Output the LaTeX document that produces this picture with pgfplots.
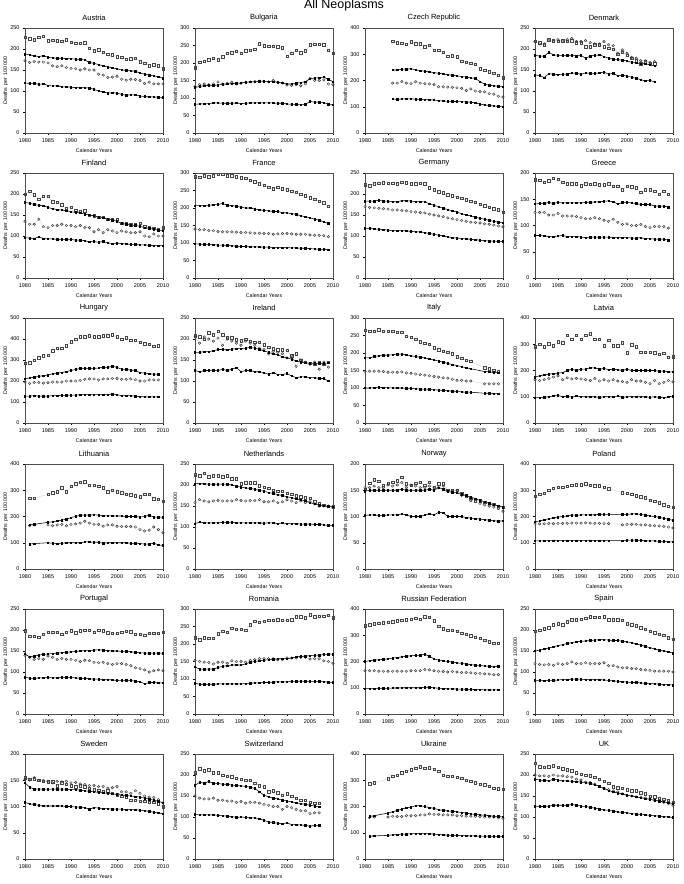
\documentclass[border=0pt]{standalone}
\usepackage{pgfplots}
\usepackage{pgfplotstable}
\usepackage{fontspec}
\setmainfont{Liberation Sans}
\pgfplotsset{compat=1.18}

\pgfplotsset{
 panel/.style={scale only axis, width=138pt, height=105pt, xmin=1980, xmax=2010, ymin=0,
  xtick={1980,1985,...,2010}, tick align=outside, xtick pos=bottom, ytick pos=left,
  major tick length=2pt,
  axis line style={gray!60!black, line width=0.4pt}, tick style={black, line width=0.4pt},
  ticklabel style={font=\fontsize{5.5}{6}\selectfont},
  /pgf/number format/assume math mode=true, /pgf/number format/1000 sep={},
  title style={font=\fontsize{7.5}{9}\selectfont, at={(axis description cs:0.5,1.04)}, anchor=center},
  xlabel={Calendar Years}, ylabel={Deaths\, per\, 100 000},
  xlabel style={font=\fontsize{5.3}{6}\selectfont, at={(axis description cs:0.5,-0.17)}, anchor=center},
  ylabel style={font=\fontsize{5.3}{6}\selectfont, at={(axis description cs:-0.14,0.5)}, anchor=center},
 },
 sA/.style={draw=gray!40, line width=0.3pt, mark=square, mark size=1.25pt, mark options={draw=gray!55!black, line width=0.45pt}},
 sC/.style={draw=gray!40, line width=0.3pt, mark=o, mark size=1.25pt, mark options={draw=gray!45!black, line width=0.45pt}},
 sB/.style={black, line width=0.55pt, mark=square*, mark size=0.75pt},
}

\newcommand{\panel}[6]{%
\begin{axis}[panel, at={(#1pt,-#2pt)}, anchor=south west, title={#3}, ymax=#4, ytick distance=#5]
\addplot[sA] table[x=yr,y=a]{#6};
\addplot[sC] table[x=yr,y=c]{#6};
\addplot[sB] table[x=yr,y=b]{#6};
\addplot[sB] table[x=yr,y=d]{#6};
\end{axis}}

\pgfplotstableread{
yr a b c d
1980 228 188 172 119
1981 224 186 168 118
1982 222 184 170 118
1983 228 182 169 116
1984 230 184 169 117
1985 220 180 167 113
1986 221 179 160 112
1987 220 178 158 112
1988 218 178 160 110
1989 222 177 156 110
1990 216 177 154 109
1991 214 176 153 108
1992 214 175 150 108
1993 215 174 153 108
1994 202 168 150 107
1995 196 166 150 104
1996 198 163 140 100
1997 192 160 138 98
1998 188 157 132 95
1999 186 155 133 96
2000 182 153 135 95
2001 180 150 128 92
2002 176 149 126 90
2003 177 148 128 91
2004 178 147 127 91
2005 170 143 125 88
2006 166 140 118 87
2007 160 138 121 86
2008 163 136 117 86
2009 160 134 117 85
2010 153 130 117 85
}\tAT
\pgfplotstableread{
yr a b c d
1980 187 130 132 82
1981 202 133 138 83
1982 205 135 140 83
1983 210 136 138 84
1984 213 136 140 86
1985 210 137 146 86
1986 218 139 140 85
1987 228 140 142 85
1988 230 141 145 85
1989 233 142 140 86
1990 228 143 142 84
1991 235 145 145 85
1992 236 146 146 86
1993 240 146 147 86
1994 255 148 148 86
1995 250 148 147 86
1996 248 147 146 86
1997 248 147 150 86
1998 246 145 145 85
1999 243 143 143 85
2000 220 140 137 83
2001 228 140 136 82
2002 237 142 138 82
2003 230 144 135 80
2004 235 147 140 82
2005 252 155 156 90
2006 253 157 150 88
2007 253 158 150 88
2008 252 160 152 87
2009 237 153 140 82
2010 228 147 138 80
}\tBG
\pgfplotstableread{
yr a b c d
1986 350 240 190 130
1987 343 240 190 128
1988 342 243 196 130
1989 338 243 190 130
1990 347 245 188 130
1991 340 240 195 129
1992 340 238 190 128
1993 328 235 188 127
1994 335 233 187 127
1995 316 230 185 126
1996 316 228 176 123
1997 308 225 176 122
1998 293 222 175 121
1999 295 220 174 120
2000 290 218 172 120
2001 273 215 170 119
2002 270 213 162 118
2003 265 210 168 117
2004 262 208 160 115
2005 245 196 158 110
2006 240 186 157 107
2007 233 182 150 105
2008 228 180 148 103
2009 220 178 140 101
2010 210 177 137 100
}\tCZ
\pgfplotstableread{
yr a b c d
1980 218 185 218 138
1981 215 183 212 137
1982 210 183 212 132
1983 222 192 220 141
1984 220 186 218 140
1985 218 185 222 139
1986 220 185 219 140
1987 218 185 222 140
1988 220 185 225 143
1989 215 183 218 142
1990 215 185 218 140
1991 205 178 220 143
1992 205 183 215 142
1993 210 185 212 142
1994 210 186 212 143
1995 205 182 218 145
1996 202 178 210 140
1997 200 176 208 142
1998 188 175 190 136
1999 192 173 198 138
2000 185 172 190 135
2001 178 168 180 133
2002 172 167 178 130
2003 165 165 172 127
2004 170 165 172 124
2005 165 162 168 125
2006 165 160 170 122
}\tDK
\pgfplotstableread{
yr a b c d
1980 200 180 135 96
1981 207 178 128 95
1982 198 175 128 94
1983 188 173 140 98
1984 195 172 122 94
1985 195 168 120 93
1986 182 165 125 93
1987 180 163 125 92
1988 175 162 128 92
1989 166 160 125 92
1990 168 158 125 92
1991 160 156 122 90
1992 158 155 125 90
1993 160 152 120 89
1994 150 150 120 86
1995 148 148 110 87
1996 145 145 115 85
1997 145 143 108 87
1998 140 140 115 84
1999 140 138 112 82
2000 140 135 108 83
2001 130 130 112 82
2002 130 128 110 81
2003 127 126 108 80
2004 127 125 108 80
2005 130 123 110 79
2006 122 120 100 79
2007 120 118 98 78
2008 118 116 105 77
2009 116 114 100 77
2010 120 113 100 77
}\tFI
\pgfplotstableread{
yr a b c d
1980 290 207 140 98
1981 288 207 138 97
1982 292 207 138 96
1983 290 208 136 96
1984 292 209 135 95
1985 297 210 133 94
1986 297 213 132 94
1987 292 208 132 93
1988 292 207 132 92
1989 290 205 131 91
1990 287 202 130 90
1991 285 200 130 90
1992 280 200 129 89
1993 275 197 128 89
1994 270 195 128 89
1995 265 193 127 88
1996 260 192 127 88
1997 255 190 125 87
1998 260 190 126 87
1999 255 187 127 87
2000 252 186 127 87
2001 248 184 126 86
2002 245 182 125 86
2003 240 178 125 85
2004 235 175 125 85
2005 230 172 123 84
2006 225 168 122 83
2007 220 165 122 82
2008 215 160 121 82
2009 205 156 118 80
}\tFR
\pgfplotstableread{
yr a b c d
1980 222 183 170 118
1981 220 183 168 118
1982 225 183 167 117
1983 226 185 166 116
1984 227 183 165 115
1985 226 183 164 114
1986 226 182 162 113
1987 225 182 162 113
1988 228 184 161 113
1989 227 184 160 112
1990 224 183 158 111
1991 225 182 157 110
1992 226 182 156 110
1993 224 181 155 108
1994 215 177 152 106
1995 210 173 150 104
1996 206 170 148 102
1997 203 166 146 100
1998 198 163 143 98
1999 196 160 141 96
2000 192 157 139 95
2001 190 153 137 94
2002 186 150 135 93
2003 183 148 133 92
2004 180 145 132 91
2005 176 142 131 90
2006 172 140 129 89
2007 168 137 128 88
2008 165 135 126 88
2009 163 133 124 87
2010 157 131 122 87
}\tDE
\pgfplotstableread{
yr a b c d
1980 187 141 125 81
1981 186 142 125 81
1982 182 142 125 80
1983 185 144 120 79
1984 190 142 120 79
1985 188 144 123 80
1986 182 143 118 81
1987 180 143 118 79
1988 180 143 118 79
1989 180 143 117 79
1990 176 143 115 78
1991 180 144 113 77
1992 179 144 113 78
1993 180 145 115 78
1994 178 145 113 78
1995 178 146 110 78
1996 180 147 108 78
1997 175 145 112 77
1998 175 141 106 77
1999 168 144 102 77
2000 175 144 103 77
2001 174 143 100 76
2002 172 142 100 76
2003 163 140 102 77
2004 168 140 98 75
2005 168 140 96 75
2006 165 137 98 74
2007 160 137 98 74
2008 165 137 98 74
2009 160 135 95 72
}\tGR
\pgfplotstableread{
yr a b c d
1980 285 210 195 128
1981 288 215 188 128
1982 300 218 193 130
1983 312 222 193 128
1984 320 226 190 128
1985 322 228 192 128
1986 345 235 195 130
1987 355 238 195 130
1988 356 240 195 132
1989 368 245 200 132
1990 388 250 200 133
1991 400 255 200 133
1992 410 260 203 135
1993 410 260 208 135
1994 415 260 210 135
1995 410 260 210 135
1996 412 262 205 135
1997 415 265 210 135
1998 415 265 210 135
1999 420 270 212 138
2000 410 265 212 135
2001 400 256 208 130
2002 405 255 208 130
2003 395 252 210 130
2004 395 250 206 128
2005 385 240 200 125
2006 378 238 200 125
2007 375 235 205 124
2008 365 232 205 124
2009 368 233 205 124
}\tHU
\pgfplotstableread{
yr a b c d
1980 208 168 205 125
1981 205 168 190 122
1982 200 170 205 125
1983 215 170 200 125
1984 210 172 195 126
1985 218 175 202 125
1986 210 175 185 128
1987 203 174 200 125
1988 203 176 195 128
1989 198 177 190 132
1990 196 177 185 122
1991 200 178 195 125
1992 195 180 190 125
1993 192 178 185 122
1994 192 175 178 122
1995 186 172 175 120
1996 180 168 165 116
1997 177 165 170 120
1998 175 162 168 115
1999 175 158 165 115
2000 173 155 155 118
2001 160 152 160 112
2002 165 148 135 108
2003 150 145 150 110
2004 145 143 145 110
2005 142 142 140 108
2006 140 142 145 108
2007 145 142 128 106
2008 140 142 145 106
2009 145 143 133 100
}\tIE
\pgfplotstableread{
yr a b c d
1980 265 186 148 100
1981 262 186 148 100
1982 262 190 148 101
1983 266 192 148 102
1984 262 193 147 101
1985 262 194 145 101
1986 262 195 145 100
1987 260 197 145 100
1988 260 197 146 100
1989 248 195 143 99
1990 245 192 142 99
1991 240 190 140 98
1992 232 188 138 97
1993 228 186 137 97
1994 225 183 135 96
1995 215 180 133 95
1996 210 177 131 94
1997 205 174 129 93
1998 202 170 128 92
1999 198 167 125 91
2000 190 164 122 90
2001 185 161 122 89
2002 180 158 120 88
2003 176 155 120 88
2006 158 147 112 85
2007 155 146 112 85
2008 150 145 112 84
2009 148 143 112 84
}\tIT
\pgfplotstableread{
yr a b c d
1980 290 175 165 97
1981 300 180 162 97
1982 290 183 165 98
1983 302 186 170 100
1984 295 188 175 103
1985 310 190 180 105
1986 305 192 165 100
1987 335 200 172 102
1988 320 205 168 98
1989 335 200 170 103
1990 320 205 168 100
1991 335 205 165 100
1992 340 210 162 100
1993 320 210 170 100
1994 320 205 160 98
1995 295 208 165 100
1996 315 203 160 100
1997 295 205 165 100
1998 295 203 160 103
1999 305 200 158 98
2000 268 205 155 100
2001 298 200 165 100
2002 290 200 160 100
2003 270 200 160 100
2004 270 200 155 100
2005 270 200 150 98
2006 268 200 162 100
2007 262 197 150 98
2008 265 198 155 96
2009 250 195 162 100
2010 252 195 157 102
}\tLV
\pgfplotstableread{
yr a b c d
1981 270 168 165 95
1982 270 170 168 97
1985 285 178 168 100
1986 290 180 165 98
1987 295 183 168 97
1988 310 186 170 98
1989 295 190 165 100
1990 315 196 170 100
1991 325 200 172 100
1992 330 205 175 100
1993 333 205 182 103
1994 320 205 175 103
1995 320 207 170 102
1996 315 205 170 102
1997 310 203 163 98
1998 295 202 168 100
1999 300 203 168 100
2000 295 202 163 100
2001 290 202 162 100
2002 285 200 162 100
2003 283 200 162 98
2004 280 200 160 98
2005 275 198 150 97
2006 285 200 145 95
2007 285 205 148 95
2008 268 198 160 98
2009 265 198 150 92
2010 258 198 138 90
}\tLT
\pgfplotstableread{
yr a b c d
1980 225 203 158 108
1981 222 203 165 112
1982 228 203 162 110
1983 220 202 160 110
1984 222 202 162 110
1985 222 202 163 110
1986 220 202 162 111
1987 222 202 162 111
1988 215 200 162 111
1989 215 197 165 110
1990 203 195 163 110
1991 205 193 162 110
1992 205 192 163 110
1993 205 190 163 110
1994 198 187 165 110
1995 195 185 160 109
1996 192 182 160 110
1997 188 180 162 110
1998 185 177 158 108
1999 185 175 160 110
2000 180 172 165 108
2001 178 170 162 108
2002 175 167 158 108
2003 172 165 162 107
2004 170 162 158 107
2005 168 158 160 107
2006 160 155 155 106
2007 156 152 150 106
2008 152 150 150 105
2009 150 149 150 104
2010 148 148 146 104
}\tNL
\pgfplotstableread{
yr a b c d
1980 152 148 155 102
1981 163 150 155 103
1982 170 150 158 103
1983 167 150 155 102
1984 160 150 155 102
1985 163 150 160 103
1986 165 150 158 103
1987 168 150 160 103
1988 175 152 165 105
1989 162 150 155 103
1990 160 150 160 100
1991 163 150 158 100
1992 165 150 155 100
1993 160 150 155 103
1994 165 152 158 105
1995 155 150 155 103
1996 162 155 155 108
1997 162 152 158 107
1998 150 148 148 100
1999 150 146 148 100
2000 150 145 150 100
2001 143 142 140 100
2002 140 140 140 98
2003 135 137 130 97
2004 130 134 132 96
2005 130 131 125 95
2006 127 128 122 94
2007 125 125 120 93
2008 123 122 118 92
2009 120 120 115 91
2010 118 118 110 92
}\tNO
\pgfplotstableread{
yr a b c d
1980 278 180 175 107
1981 285 183 172 107
1982 288 187 172 107
1983 300 192 173 108
1984 308 195 173 108
1985 312 198 174 108
1986 312 200 174 108
1987 316 202 174 108
1988 320 205 175 108
1989 322 205 175 108
1990 322 206 175 108
1991 325 206 176 108
1992 320 206 175 108
1993 318 207 174 108
1994 318 208 174 108
1995 312 208 173 108
1996 306 208 173 108
1999 290 208 168 108
2000 288 208 170 110
2001 285 210 170 110
2002 280 210 170 110
2003 275 208 168 109
2004 272 205 168 108
2005 262 202 166 107
2006 258 200 165 107
2007 252 197 164 106
2008 245 193 162 105
2009 240 190 160 104
2010 235 185 156 103
}\tPL
\pgfplotstableread{
yr a b c d
1980 198 143 140 88
1981 185 136 135 85
1982 185 138 130 85
1983 183 140 132 86
1984 190 142 130 86
1985 195 143 138 87
1986 195 144 135 86
1987 195 145 130 86
1988 190 146 132 87
1989 195 147 130 87
1990 198 148 130 87
1991 193 149 128 86
1992 198 150 125 85
1993 200 151 128 85
1994 200 151 127 84
1995 195 152 123 83
1996 200 153 122 83
1997 198 152 123 82
1998 193 151 120 82
1999 192 150 118 81
2000 192 150 120 80
2001 195 149 120 80
2002 197 149 118 80
2003 196 148 115 80
2004 190 147 110 78
2005 190 146 108 77
2006 188 145 105 72
2007 192 145 100 75
2008 192 145 103 75
2009 192 145 105 74
2010 195 145 103 74
}\tPT
\pgfplotstableread{
yr a b c d
1980 218 135 153 88
1981 212 128 150 85
1982 218 128 148 85
1983 216 128 147 85
1984 216 128 143 85
1985 230 133 148 86
1986 236 136 148 86
1987 233 138 145 86
1988 245 140 152 86
1989 242 140 150 86
1990 242 140 150 86
1991 240 143 148 87
1992 255 148 153 88
1993 265 150 155 89
1994 262 152 158 89
1995 265 154 158 90
1996 268 155 158 90
1997 268 156 158 91
1998 270 158 155 92
1999 268 158 155 92
2000 268 158 160 92
2001 270 160 160 93
2002 278 163 160 93
2003 278 165 162 94
2004 275 165 162 93
2005 283 167 157 93
2006 278 168 158 93
2007 280 168 158 93
2008 280 170 152 92
2009 282 171 150 91
2010 275 171 145 90
}\tRO
\pgfplotstableread{
yr a b c d
1980 337 200 165 97
1981 340 203 165 97
1982 343 205 165 97
1983 345 207 163 98
1984 348 208 163 98
1985 350 210 163 98
1986 352 213 163 99
1987 355 215 163 99
1988 358 218 163 100
1989 360 220 163 100
1990 362 222 165 100
1991 365 223 165 100
1992 362 224 165 100
1993 370 228 170 102
1994 368 220 168 102
1995 355 210 165 100
1996 335 205 163 98
1997 325 203 162 97
1998 320 200 160 96
1999 320 198 162 96
2000 315 195 160 95
2001 308 193 158 95
2002 303 190 158 94
2003 298 188 157 94
2004 293 186 155 93
2005 288 185 155 93
2006 282 183 153 92
2007 275 182 152 92
2008 270 180 150 92
2009 270 182 150 92
}\tRU
\pgfplotstableread{
yr a b c d
1980 197 150 120 80
1981 200 152 118 80
1982 203 155 117 79
1983 205 157 118 80
1984 212 160 116 80
1985 215 163 120 81
1986 213 165 118 82
1987 220 168 120 82
1988 224 170 124 83
1989 225 172 120 83
1990 226 173 120 83
1991 228 174 122 82
1992 232 175 120 82
1993 230 176 120 82
1994 230 177 120 82
1995 232 177 122 81
1996 225 176 115 80
1997 225 175 115 79
1998 225 175 112 78
1999 223 173 110 77
2000 215 172 110 76
2001 212 170 108 75
2002 210 167 108 75
2003 205 164 106 74
2004 202 161 105 73
2005 197 158 104 72
2006 193 155 102 72
2007 190 152 102 71
2008 188 150 102 70
2009 182 148 102 70
2010 178 145 100 69
}\tES
\pgfplotstableread{
yr a b c d
1980 155 145 152 108
1981 152 137 150 105
1982 153 133 155 104
1983 150 133 150 102
1984 148 133 150 101
1985 147 133 148 101
1986 147 133 145 101
1987 140 133 148 101
1988 145 133 147 101
1989 142 133 148 100
1990 140 132 145 100
1991 138 132 146 99
1992 140 131 143 99
1993 138 130 142 98
1994 135 129 140 95
1995 132 128 140 98
1996 130 127 138 97
1997 128 126 138 96
1998 130 125 135 96
1999 125 124 136 95
2000 122 123 138 95
2001 120 122 128 95
2002 118 121 128 94
2003 112 120 125 94
2004 112 119 130 94
2005 110 118 125 93
2006 110 116 120 92
2007 108 114 118 91
2008 108 112 117 89
2009 105 110 113 88
2010 100 107 107 86
}\tSE
\pgfplotstableread{
yr a b c d
1980 205 175 150 106
1981 215 183 145 105
1982 210 180 143 105
1983 213 185 143 105
1984 205 180 145 105
1985 205 180 140 104
1986 200 178 140 103
1987 197 178 138 102
1988 196 176 138 101
1989 192 175 135 99
1990 190 174 137 100
1991 187 173 133 99
1992 187 171 135 98
1993 180 168 135 98
1994 175 160 133 96
1995 172 152 130 92
1996 160 148 128 88
1997 162 145 125 87
1998 158 143 125 85
1999 152 140 118 84
2000 155 138 125 86
2001 150 136 122 82
2002 145 134 118 82
2003 140 132 115 81
2004 140 130 115 80
2005 135 128 108 78
2006 133 126 110 80
2007 133 124 110 80
}\tCH
\pgfplotstableread{
yr a b c d
1981 287 162 158 87
1982 290 165 160 88
1985 305 175 160 90
1986 315 180 163 92
1987 320 185 162 93
1988 328 190 162 95
1989 335 195 165 95
1990 340 198 165 96
1991 345 203 165 97
1992 352 203 168 97
1993 345 200 168 97
1994 348 196 172 96
1995 342 193 170 95
1996 335 188 170 93
1997 320 185 168 92
1998 316 183 168 91
1999 315 182 168 90
2000 312 180 165 90
2001 308 177 165 89
2002 300 175 163 89
2003 296 172 163 88
2004 290 170 162 88
2005 285 168 162 87
2006 283 167 160 87
2007 278 165 160 87
2008 270 163 160 86
2009 268 162 157 86
2010 265 160 155 86
}\tUA
\pgfplotstableread{
yr a b c d
1980 228 190 200 126
1981 220 188 198 125
1982 218 187 198 125
1983 220 186 197 126
1984 222 190 200 128
1985 218 188 198 128
1986 215 186 198 128
1987 212 186 196 128
1988 210 185 195 130
1989 205 184 190 128
1990 202 183 188 126
1991 200 182 183 125
1992 198 180 182 123
1993 195 177 178 121
1994 190 173 172 119
1995 185 168 168 117
1996 180 163 165 116
1997 172 160 162 114
1998 170 157 160 112
1999 168 155 155 111
2000 165 152 152 110
2001 162 150 150 108
2002 162 148 148 107
2003 158 146 147 106
2004 155 144 145 105
2005 150 142 143 104
2006 148 140 140 103
2007 145 138 137 102
2008 142 136 135 101
2009 140 134 132 100
2010 135 132 128 99
}\tUK

\begin{document}
\begin{tikzpicture}
\path[use as bounding box] (0pt,0pt) rectangle (684pt,-884pt);
\node[font=\fontsize{12.5}{14}\selectfont, anchor=base] at (344pt,-8.5pt) {All Neoplasms};
\panel{25}{133}{Austria}{250}{50}{\tAT}
\panel{195}{133}{Bulgaria}{300}{50}{\tBG}
\panel{365}{133}{Czech Republic}{400}{100}{\tCZ}
\panel{535}{133}{Denmark}{250}{50}{\tDK}
\panel{25}{278}{Finland}{250}{50}{\tFI}
\panel{195}{278}{France}{300}{50}{\tFR}
\panel{365}{278}{Germany}{250}{50}{\tDE}
\panel{535}{278}{Greece}{200}{50}{\tGR}
\panel{25}{423}{Hungary}{500}{100}{\tHU}
\panel{195}{423}{Ireland}{250}{50}{\tIE}
\panel{365}{423}{Italy}{300}{50}{\tIT}
\panel{535}{423}{Latvia}{400}{100}{\tLV}
\panel{25}{569}{Lithuania}{400}{100}{\tLT}
\panel{195}{569}{Netherlands}{250}{50}{\tNL}
\panel{365}{569}{Norway}{200}{50}{\tNO}
\panel{535}{569}{Poland}{400}{100}{\tPL}
\panel{25}{714}{Portugal}{250}{50}{\tPT}
\panel{195}{714}{Romania}{300}{50}{\tRO}
\panel{365}{714}{Russian Federation}{400}{100}{\tRU}
\panel{535}{714}{Spain}{250}{50}{\tES}
\panel{25}{859}{Sweden}{200}{50}{\tSE}
\panel{195}{859}{Switzerland}{250}{50}{\tCH}
\panel{365}{859}{Ukraine}{400}{100}{\tUA}
\panel{535}{859}{UK}{250}{50}{\tUK}
\end{tikzpicture}
\end{document}
